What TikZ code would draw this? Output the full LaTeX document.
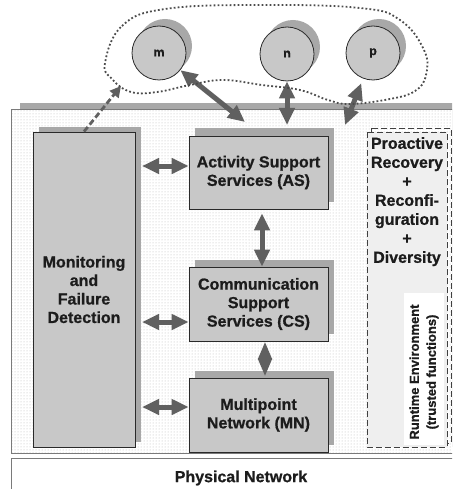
\documentclass[tikz,border=0pt]{standalone}
\usepackage{fontspec}
\setmainfont{Liberation Sans}[BoldFeatures={FakeBold=0.8}]
\usetikzlibrary{arrows.meta,patterns,calc}
\definecolor{boxfill}{HTML}{C8C8C8}
\definecolor{shadowc}{HTML}{A8A8A8}
\definecolor{arrowc}{HTML}{606060}
\definecolor{edgec}{HTML}{2A2A2A}
\definecolor{envedge}{HTML}{7A7A7A}
\definecolor{textc}{HTML}{1C1C1C}
\definecolor{dashfill}{HTML}{EFEFEF}
\tikzset{
  box/.style={draw=edgec, line width=0.8pt, fill=boxfill, text=textc,
    align=center, inner sep=0pt,
    font=\fontsize{16}{18.5}\selectfont\bfseries},
  host/.style={circle, draw=edgec, line width=0.8pt, fill=boxfill,
    minimum size=54pt, inner sep=0pt, text=textc,
    font=\fontsize{12.5}{14}\selectfont\bfseries},
  dbl/.style={draw=arrowc, line width=5pt,
    {Triangle[length=17pt,width=15pt]}-{Triangle[length=17pt,width=15pt]}},
  dia/.style={draw=arrowc, line width=5pt,
    {Triangle[length=18pt,width=13pt]}-{Triangle[length=18pt,width=13pt]}},
  dasharrow/.style={draw=arrowc, line width=2.8pt, dash pattern=on 6pt off 3pt,
    -{Triangle[length=11pt,width=11pt]}},
  dotloop/.style={draw=black!70, line width=1.8pt, dash pattern=on 1.8pt off 2.2pt},
  dashbox/.style={draw=black!75, line width=0.8pt, dash pattern=on 6pt off 3pt},
}
\begin{document}
\begin{tikzpicture}[x=1pt,y=-1pt]
\useasboundingbox (0,0) rectangle (452,489);
\clip (0,0) rectangle (452,489);

% runtime environment panel with its shadow and dotted texture
\fill[shadowc] (20,103) rectangle (470,447);
\fill[white] (11,109) rectangle (470,453);
\fill[pattern=dots, pattern color=gray!55] (11,109) rectangle (470,453);
\draw[envedge, line width=0.9pt] (11,109) rectangle (470,453);

% physical network panel
\draw[envedge, line width=0.9pt, fill=white] (11,458) rectangle (470,500);
\node[text=textc, font=\fontsize{16}{18.5}\selectfont\bfseries] (phys) at (241,478) {Physical Network};

% monitoring column
\fill[shadowc] (39,127) rectangle (141,442);
\node[box, minimum width=102pt, minimum height=315pt] (mon) at (84,289.5)
  {Monitoring\\and\\Failure\\Detection};

% service boxes
\fill[shadowc] (195,128) rectangle (334,202);
\node[box, minimum width=139pt, minimum height=73pt] (AS) at (258.5,172.5)
  {Activity Support\\Services (AS)};
\fill[shadowc] (195,260) rectangle (334,334);
\node[box, minimum width=139pt, minimum height=74pt] (CS) at (258.5,304)
  {Communication\\Support\\Services (CS)};
\fill[shadowc] (195,371) rectangle (334,445);
\node[box, minimum width=139pt, minimum height=74pt] (MN) at (258.5,415)
  {Multipoint\\Network (MN)};

% trusted functions column
\draw[dashbox] (371,128) rectangle (451,443);
\draw[dashbox, fill=dashfill] (367,132) rectangle (447,447);
\node[anchor=north, align=center, text=textc, inner sep=0pt,
  font=\fontsize{16}{19}\selectfont\bfseries] (prx) at (407,137)
  {Proactive\\Recovery\\+\\Reconfi-\\guration\\+\\Diversity};
\node[fill=white, minimum width=40pt, minimum height=152pt, inner sep=0pt] (rtbox) at (424,369) {};
\node[rotate=90, align=center, text=textc, inner sep=0pt,
  font=\fontsize{13}{17}\selectfont\bfseries] (rt) at (424,372)
  {Runtime Environment\\(trusted functions)};

% hosts
\fill[shadowc] (165,46) circle (27);
\node[host] (m) at (159,53) {m};
\fill[shadowc] (293,47) circle (27);
\node[host] (n) at (287,54) {n};
\fill[shadowc] (379,46) circle (27);
\node[host] (p) at (373,53) {p};

% free ends of the connectors
\coordinate (mend) at (245,122);
\coordinate (nend) at (287,125);
\coordinate (pend) at (345,125);
\coordinate (dtip) at (121,86);
\coordinate (r1) at (142,166);
\coordinate (r2) at (142,322);
\coordinate (r3) at (142,407);

% connectors
\draw[dbl] (m) -- (mend);
\draw[dbl] (n) -- (nend);
\draw[dbl, shorten <=5pt] (p) -- (pend);
\draw[dasharrow] (mon.north) -- (dtip);
\draw[dbl] (r1) -- (AS.west |- r1);
\draw[dbl] (r2) -- (CS.west |- r2);
\draw[dbl] (r3) -- (MN.west |- r3);
\draw[dbl] ($(AS.south)+(3.5,4)$) -- ($(CS.north)+(3.5,0)$);
\draw[dia] ($(CS.south)+(6.5,0)$) -- ($(MN.north)+(6.5,-1)$);

% group of hosts
\draw[dotloop] plot[smooth cycle, tension=0.7] coordinates {
  (105,63) (122,26) (165,9) (260,5) (360,8) (400,20) (424,50) (426,75)
  (415,91) (390,99) (350,104) (328,100) (300,90) (262,85) (223,80)
  (190,85) (157,92) (131,92) (112,79)};
\end{tikzpicture}
\end{document}
